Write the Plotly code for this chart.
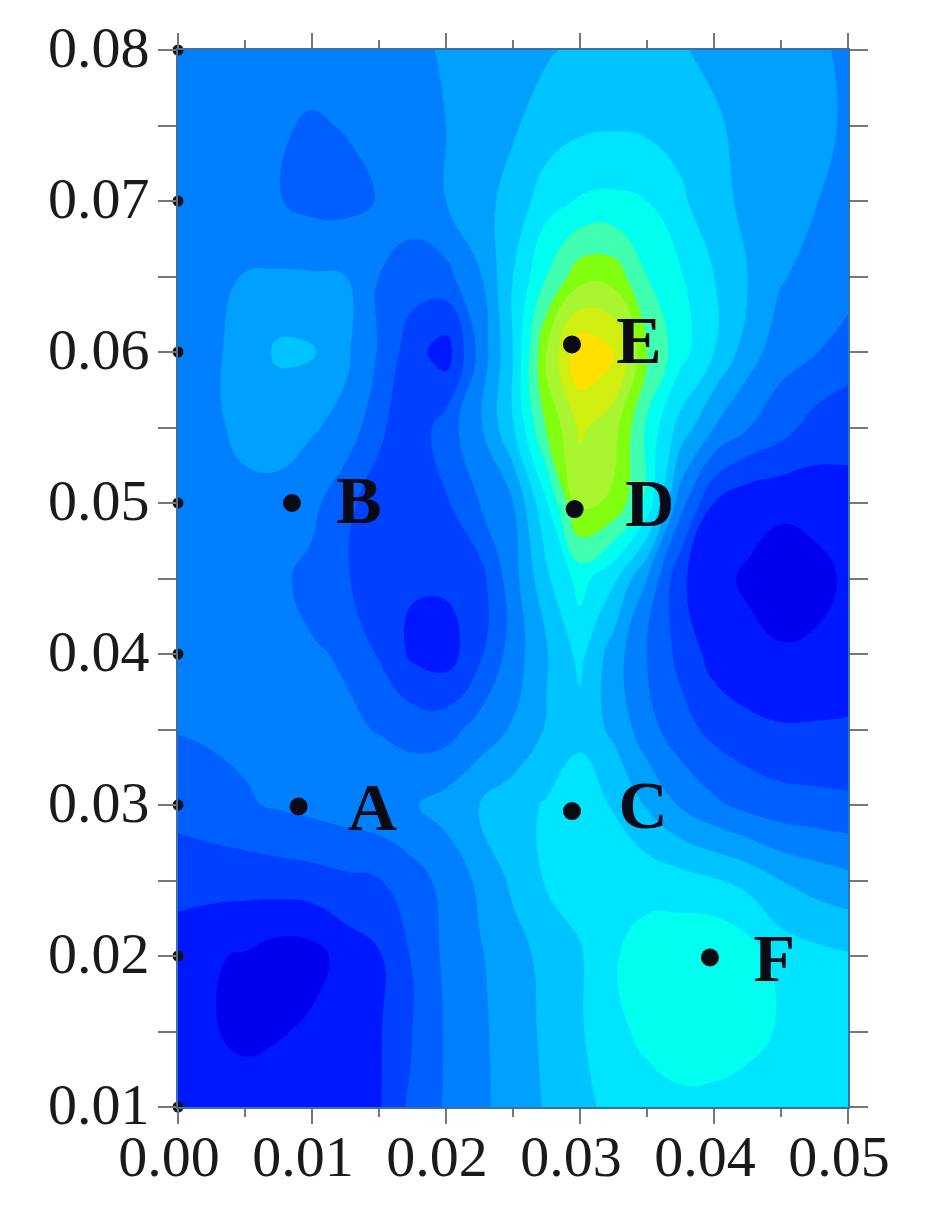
import plotly.graph_objects as go

x_grid = [0.0, 0.0025, 0.005, 0.0075, 0.01, 0.0125, 0.015, 0.0175, 0.02, 0.0225, 0.025,
          0.0275, 0.03, 0.0325, 0.035, 0.0375, 0.04, 0.0425, 0.045, 0.0475, 0.05]
y_grid = [0.08, 0.075, 0.07, 0.065, 0.06, 0.055, 0.05, 0.045, 0.04, 0.035, 0.03, 0.025, 0.02, 0.015, 0.01]

# values, one row per y_grid entry
z_rows = [
    [4.4, 4.4, 4.4, 4.4, 4.4, 4.5, 4.6, 4.8, 5.1, 5.4, 5.6, 5.9, 6.2, 6.3, 6.3, 6.1, 5.7, 5.5, 5.3, 5.1, 4.9],
    [4.4, 4.3, 4.2, 4.1, 3.9, 4.05, 4.3, 4.6, 5.0, 5.4, 5.9, 6.4, 6.8, 6.9, 6.8, 6.6, 6.2, 5.6, 5.4, 5.2, 4.9],
    [4.4, 4.3, 4.2, 4.05, 3.7, 3.7, 4.05, 4.5, 5.0, 5.7, 6.3, 7.6, 8.1, 8.2, 8.0, 7.2, 6.3, 5.8, 5.4, 5.05, 4.7],
    [4.5, 4.75, 5.05, 5.1, 5.1, 5.0, 4.0, 3.5, 3.7, 4.9, 7.0, 9.0, 10.6, 10.6, 9.0, 8.1, 7.0, 6.0, 5.1, 4.6, 4.3],
    [4.6, 4.85, 5.3, 6.2, 6.1, 5.2, 3.9, 2.4, 1.5, 4.3, 7.0, 11.0, 13.8, 13.2, 10.0, 8.4, 7.0, 5.5, 4.4, 4.05, 3.7],
    [4.6, 4.85, 5.2, 5.2, 5.1, 4.7, 3.2, 2.3, 3.5, 4.8, 6.9, 10.1, 12.2, 11.4, 8.8, 6.6, 5.0, 4.05, 3.4, 2.6, 2.1],
    [4.4, 4.5, 4.8, 4.85, 4.3, 3.2, 2.6, 2.3, 2.9, 4.0, 5.0, 7.9, 11.3, 10.8, 8.7, 4.4, 2.0, 1.3, 1.2, 1.4, 1.9],
    [4.3, 4.3, 4.3, 4.2, 3.7, 3.1, 2.4, 2.1, 2.2, 2.6, 4.6, 6.8, 8.4, 7.2, 5.0, 2.2, 1.2, 0.9, 0.5, 0.6, 1.2],
    [4.2, 4.2, 4.2, 4.2, 4.1, 3.9, 2.9, 1.8, 1.5, 2.8, 4.5, 5.9, 7.3, 5.5, 4.0, 2.7, 1.6, 1.2, 1.1, 1.2, 1.5],
    [4.05, 4.15, 4.2, 4.2, 4.2, 4.15, 3.95, 3.6, 3.6, 4.4, 5.1, 6.1, 6.6, 5.8, 4.4, 3.4, 2.7, 2.3, 2.1, 2.1, 2.1],
    [3.3, 3.6, 3.9, 4.1, 4.3, 4.5, 4.7, 4.9, 5.4, 6.0, 6.6, 7.1, 7.9, 6.9, 5.9, 4.9, 4.2, 3.7, 3.4, 3.3, 3.2],
    [2.5, 2.4, 2.4, 2.5, 2.6, 2.8, 2.95, 3.6, 4.3, 5.2, 6.2, 7.1, 7.4, 7.6, 7.6, 7.4, 7.1, 6.7, 6.0, 5.6, 5.3],
    [1.3, 1.1, 0.9, 0.5, 0.6, 1.4, 1.9, 3.1, 4.2, 4.9, 5.6, 6.3, 6.9, 7.9, 8.5, 8.8, 9.0, 8.5, 7.6, 7.3, 7.1],
    [1.4, 1.1, 0.7, 0.9, 1.2, 1.6, 1.9, 3.0, 4.1, 4.8, 5.5, 6.2, 6.9, 7.7, 8.3, 8.7, 8.6, 8.3, 7.9, 7.4, 7.1],
    [1.6, 1.6, 1.6, 1.7, 1.7, 1.8, 1.9, 3.3, 4.1, 4.8, 5.4, 6.1, 6.7, 7.3, 7.5, 7.7, 7.7, 7.6, 7.4, 7.3, 7.2],
]

band_colors = ["#0000f0", "#0018ff", "#0040ff", "#0060ff", "#0080ff", "#00a0ff", "#00c4ff",
               "#00e4ff", "#00ffee", "#40ffb0", "#80ff10", "#a8f530", "#d0ee10", "#ffe000"]

point_names = ["A", "B", "C", "D", "E", "F"]
point_x = [0.0090, 0.0085, 0.0294, 0.0296, 0.0294, 0.0397]
point_y = [0.0299, 0.0500, 0.0296, 0.0496, 0.0605, 0.0199]
label_x = [0.0145, 0.0135, 0.0347, 0.0352, 0.0344, 0.0445]
label_y = [0.0295, 0.0498, 0.0296, 0.0496, 0.0604, 0.0195]

x_ticks = [0.0, 0.01, 0.02, 0.03, 0.04, 0.05]
y_ticks = [0.01, 0.02, 0.03, 0.04, 0.05, 0.06, 0.07, 0.08]

n = len(band_colors)
scale = [[(i + 0.5) / n, c] for i, c in enumerate(band_colors)]
scale = [[0, band_colors[0]]] + scale + [[1, band_colors[-1]]]

fig = go.Figure()

fig.add_trace(go.Contour(
    x=x_grid, y=y_grid, z=z_rows,
    zmin=0, zmax=n,
    colorscale=scale,
    showscale=False,
    contours=dict(start=0, end=n, size=1, coloring="fill", showlines=False),
    line=dict(width=0, smoothing=1.3),
))

# black dots sitting on the left axis
fig.add_trace(go.Scatter(
    x=[0.0] * len(y_ticks), y=y_ticks,
    mode="markers",
    marker=dict(size=11, color="#111111"),
    cliponaxis=False,
))

fig.add_trace(go.Scatter(
    x=point_x, y=point_y,
    mode="markers",
    marker=dict(size=18, color="#0a0a14"),
))

fig.add_trace(go.Scatter(
    x=label_x, y=label_y,
    mode="text",
    text=point_names,
    textfont=dict(family="Liberation Serif", size=68, color="#0a0a14", weight="bold"),
    textposition="middle center",
))

axis_style = dict(
    showgrid=False,
    zeroline=False,
    showline=True,
    linecolor="#3f6f9f",
    linewidth=2,
    mirror="ticks",
    ticks="outside",
    tickwidth=2,
    tickcolor="#777777",
    automargin=False,
    tickfont=dict(family="Liberation Serif", size=58, color="#1a1a1a"),
)

fig.update_layout(
    width=937,
    height=1216,
    showlegend=False,
    paper_bgcolor="white",
    plot_bgcolor="white",
    margin=dict(l=170, r=97, t=42, b=117),
    xaxis=dict(range=[0, 0.05], tickvals=x_ticks, ticktext=["%.2f" % v for v in x_ticks],
               ticklen=15, ticklabelstandoff=-18, ticklabelshift=-9,
               minor=dict(ticks="outside", tickvals=[0.005, 0.015, 0.025, 0.035, 0.045],
                          ticklen=8, tickwidth=2, tickcolor="#777777"),
               **axis_style),
    yaxis=dict(range=[0.01, 0.08], tickvals=y_ticks, ticktext=["%.2f" % v for v in y_ticks],
               ticklen=18, ticklabelstandoff=-3, ticklabelshift=-3,
               minor=dict(ticks="outside", tickvals=[0.015, 0.025, 0.035, 0.045, 0.055, 0.065, 0.075],
                          ticklen=18, tickwidth=2, tickcolor="#777777"),
               **axis_style),
)

fig.write_html("out.html")
